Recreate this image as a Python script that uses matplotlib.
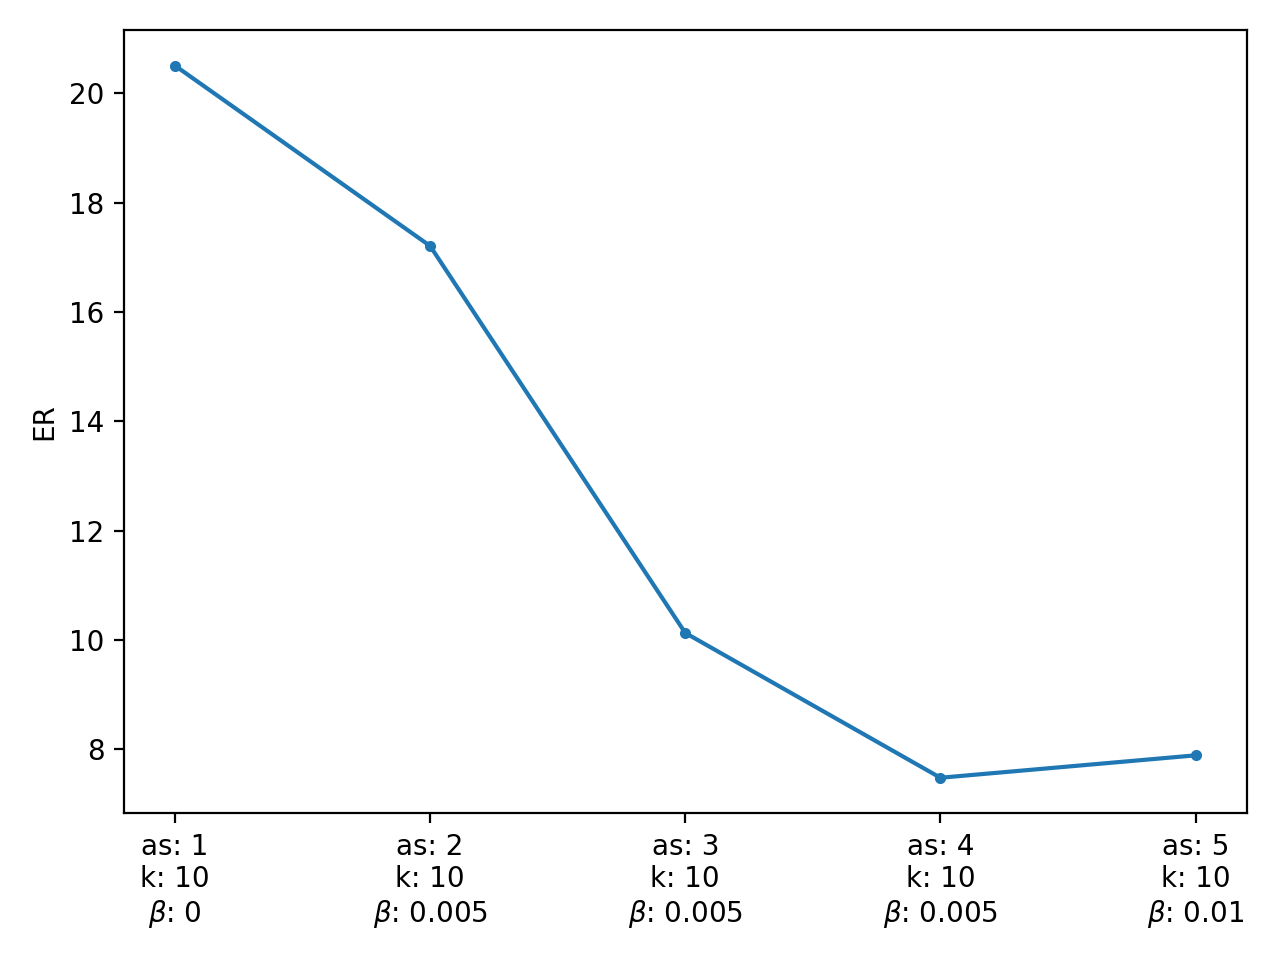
import matplotlib
matplotlib.use("Agg")
import matplotlib.pyplot as plt

as_vals = [1, 2, 3, 4, 5]
k_vals = [10, 10, 10, 10, 10]
beta_vals = ["0", "0.005", "0.005", "0.005", "0.01"]
er_vals = [20.51, 17.21, 10.13, 7.48, 7.89]

labels = [f"as: {a}\nk: {k}\n$\\beta$: {b}" for a, k, b in zip(as_vals, k_vals, beta_vals)]

fig, ax = plt.subplots(figsize=(6.4, 4.8), dpi=200)
x = list(range(len(er_vals)))
ax.plot(x, er_vals, marker='.')
ax.set_xticks(x)
ax.set_xticklabels(labels)
ax.set_ylabel("ER")
fig.tight_layout()
fig.savefig("out.png", dpi=200)
